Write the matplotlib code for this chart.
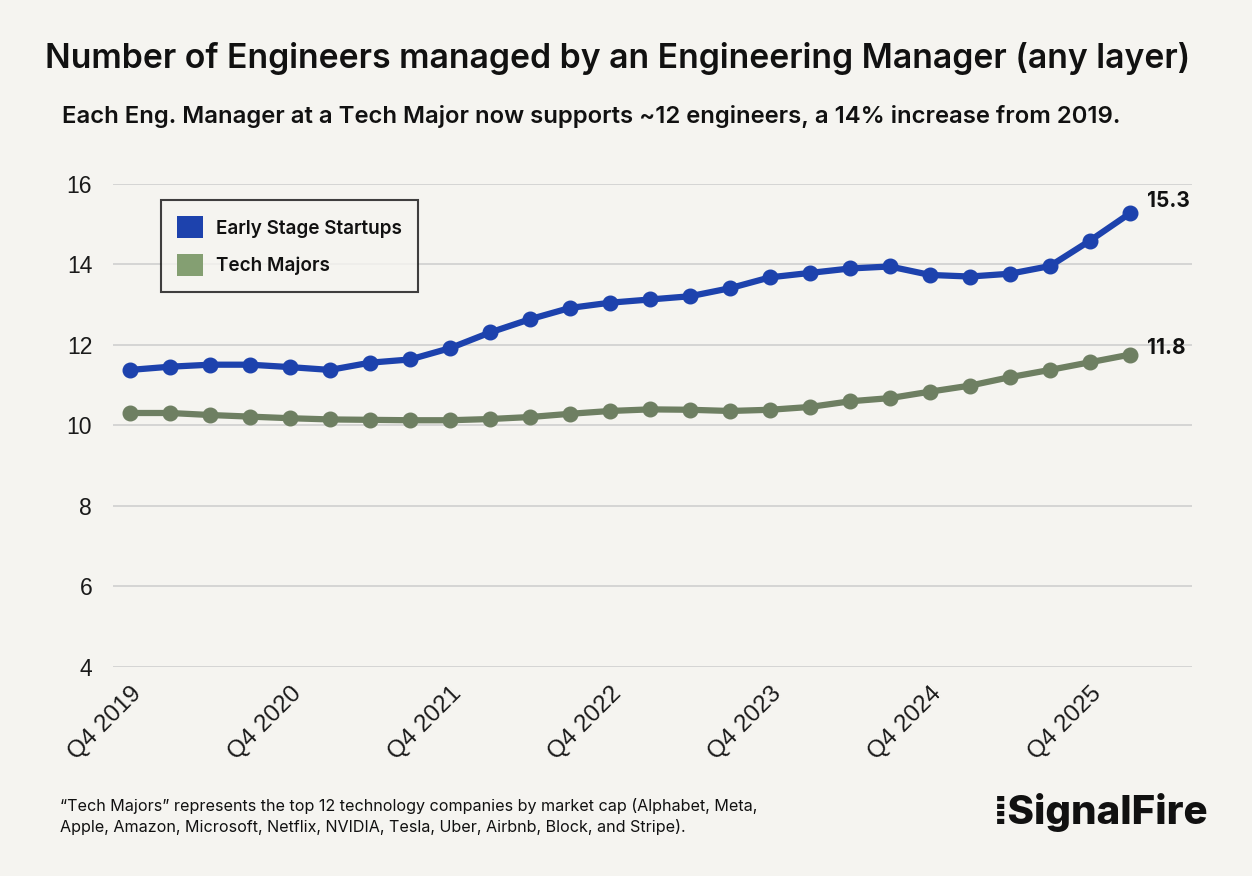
import matplotlib
matplotlib.use("Agg")
import matplotlib.pyplot as plt
from matplotlib.patches import Patch

plt.rcParams['font.family'] = ['Inter', 'DejaVu Sans']

# ---- data ----
quarters = ["Q4 2019", "Q1 2020", "Q2 2020", "Q3 2020", "Q4 2020", "Q1 2021", "Q2 2021",
            "Q3 2021", "Q4 2021", "Q1 2022", "Q2 2022", "Q3 2022", "Q4 2022", "Q1 2023",
            "Q2 2023", "Q3 2023", "Q4 2023", "Q1 2024", "Q2 2024", "Q3 2024", "Q4 2024",
            "Q1 2025", "Q2 2025", "Q3 2025", "Q4 2025", "Q1 2026"]
early_stage = [11.38, 11.46, 11.51, 11.51, 11.45, 11.38, 11.56, 11.64, 11.92, 12.31,
               12.64, 12.92, 13.05, 13.13, 13.21, 13.41, 13.68, 13.79, 13.90, 13.95,
               13.74, 13.70, 13.77, 13.96, 14.59, 15.27]
tech_majors = [10.31, 10.31, 10.26, 10.22, 10.18, 10.15, 10.14, 10.13, 10.13, 10.16,
               10.21, 10.29, 10.36, 10.40, 10.39, 10.36, 10.39, 10.46, 10.60, 10.68,
               10.84, 10.99, 11.20, 11.38, 11.57, 11.76]
tick_labels = ["Q4 2019", "Q4 2020", "Q4 2021", "Q4 2022", "Q4 2023", "Q4 2024", "Q4 2025"]
y_ticks = [4, 6, 8, 10, 12, 14, 16]
series_names = ["Early Stage Startups", "Tech Majors"]

BG = '#f5f4f0'
BLUE = '#1d42ad'
GREEN_LINE = '#6e7f62'
GREEN_PATCH = '#849f72'
TXT = '#111111'

fig = plt.figure(figsize=(12.52, 8.76), dpi=100, facecolor=BG)
ax = fig.add_axes([0.0903, 0.2386, 0.952 - 0.0903, 0.79 - 0.2386], facecolor=BG)

x = list(range(len(quarters)))
ax.plot(x, early_stage, color=BLUE, lw=4.5, marker='o', ms=10.5, zorder=3, clip_on=False)
ax.plot(x, tech_majors, color=GREEN_LINE, lw=4.5, marker='o', ms=10.5, zorder=3, clip_on=False)

ax.set_xlim(-0.425, 26.55)
ax.set_ylim(4, 16)
ax.set_yticks(y_ticks)
ax.set_yticklabels([str(v) for v in y_ticks], family=['Liberation Sans', 'DejaVu Sans'])
ax.yaxis.grid(True, color='#cfcfcf', lw=1.2)
ax.set_axisbelow(True)
for s in ax.spines.values():
    s.set_visible(False)
ax.tick_params(axis='both', length=0, colors='#1a1a1a')
ax.tick_params(axis='y', pad=15, labelsize=16.5)

tick_pos = [quarters.index(t) for t in tick_labels]
ax.set_xticks(tick_pos)
ax.set_xticklabels(tick_labels, rotation=45, ha='right', va='top', rotation_mode='anchor',
                   family=['Liberation Sans', 'DejaVu Sans'])
ax.tick_params(axis='x', pad=11, labelsize=17.5)

# end labels
ax.annotate(f"{early_stage[-1]:.1f}", (x[-1], early_stage[-1]), xytext=(12, 9),
            textcoords='offset points', fontsize=15, fontweight='bold', color=TXT,
            va='center', ha='left')
ax.annotate(f"{tech_majors[-1]:.1f}", (x[-1], tech_majors[-1]), xytext=(12, 5),
            textcoords='offset points', fontsize=15, fontweight='bold', color=TXT,
            va='center', ha='left')

handles = [Patch(facecolor=BLUE, edgecolor='none', label=series_names[0]),
           Patch(facecolor=GREEN_PATCH, edgecolor='none', label=series_names[1])]
leg = ax.legend(handles=handles, loc='upper left', bbox_to_anchor=(0.044, 0.966),
                fontsize=13.6, frameon=True, fancybox=False, handlelength=1.4,
                handleheight=1.4, handletextpad=0.7, borderpad=0.85, labelspacing=0.85,
                borderaxespad=0)
leg.get_frame().set_edgecolor('#111111')
leg.get_frame().set_linewidth(1.5)
leg.get_frame().set_facecolor(BG)
for t in leg.get_texts():
    t.set_fontweight('semibold')
    t.set_color(TXT)

fig.text(0.493, 0.933, "Number of Engineers managed by an Engineering Manager (any layer)",
         ha='center', va='center', fontsize=24.3, fontweight='semibold', color=TXT)
fig.text(0.0495, 0.867, "Each Eng. Manager at a Tech Major now supports ~12 engineers, a 14% increase from 2019.",
         ha='left', va='center', fontsize=17.2, fontweight='semibold', color=TXT)
fig.text(0.048, 0.068, "\u201cTech Majors\u201d represents the top 12 technology companies by market cap (Alphabet, Meta,\nApple, Amazon, Microsoft, Netflix, NVIDIA, Tesla, Uber, Airbnb, Block, and Stripe).",
         ha='left', va='center', fontsize=11.6, color=TXT, linespacing=1.35)
fig.text(0.965, 0.073, "\u205eSignalFire", ha='right', va='center', fontsize=29,
         fontweight='heavy', color='#111111', family=['Inter', 'DejaVu Sans'])

fig.savefig("out.png", dpi=100, facecolor=BG)
